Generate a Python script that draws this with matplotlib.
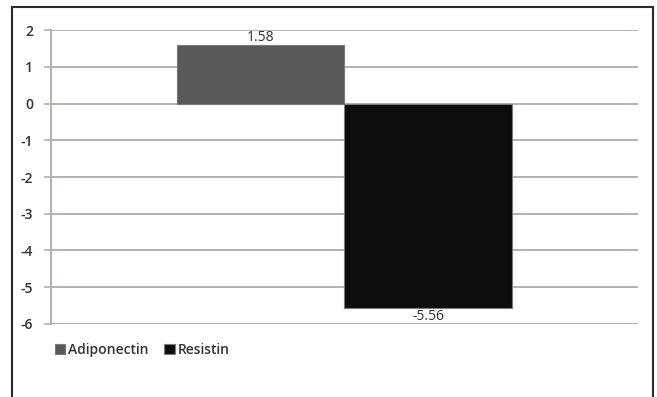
import matplotlib.pyplot as plt
from matplotlib.patches import Rectangle

# data
series = ["Adiponectin", "Resistin"]
values = [1.58, -5.56]
colors = ["#595959", "#0d0d0d"]
yticks = [2, 1, 0, -1, -2, -3, -4, -5, -6]

plt.rcParams["font.family"] = ["Open Sans", "DejaVu Sans"]

fig = plt.figure(figsize=(6.57, 3.97), dpi=100)
ax = fig.add_axes([0.0776, 0.1839, 0.8935, 0.7405])

width = 0.286
offsets = [-width / 2, width / 2]
for name, val, col, off in zip(series, values, colors, offsets):
    ax.bar(off, val, width=width, color=col, edgecolor="#7a7a7a",
           linewidth=0.8, label=name, zorder=3)
    va = "bottom" if val >= 0 else "top"
    dy = 0.0 if val >= 0 else -0.04
    ax.text(off, val + dy, f"{val:.2f}", ha="center", va=va,
            fontsize=10, color="#333333", zorder=4)

ax.set_xlim(-0.5, 0.5)
ax.set_ylim(-6, 2)
ax.set_yticks(yticks)
ax.set_yticklabels([str(t) for t in yticks], fontsize=10, fontweight="semibold",
                   color="#333333")
ax.set_xticks([])
ax.grid(axis="y", color="#b5b0ae", linewidth=1.4, zorder=0)
ax.tick_params(axis="y", length=5, width=1.2, color="#b5b0ae", pad=8)
for side in ["top", "right", "bottom"]:
    ax.spines[side].set_visible(False)
ax.spines["left"].set_color("#b5b0ae")
ax.spines["left"].set_linewidth(1.4)

fig.legend(loc="center left", bbox_to_anchor=(0.064, 0.118), ncol=2,
           frameon=False, handlelength=0.75, handleheight=0.75,
           handletextpad=0.25, columnspacing=1.1,
           prop={"size": 10, "weight": "semibold"}, labelcolor="#333333")

# outer chart frame (bottom edge runs off the image)
fig.patches.append(Rectangle((12 / 657, -0.05), 641 / 657, 1.05 - 7 / 397,
                             transform=fig.transFigure, fill=False,
                             edgecolor="#2a2a2a", linewidth=1.5))

fig.savefig("out.png", dpi=100)
